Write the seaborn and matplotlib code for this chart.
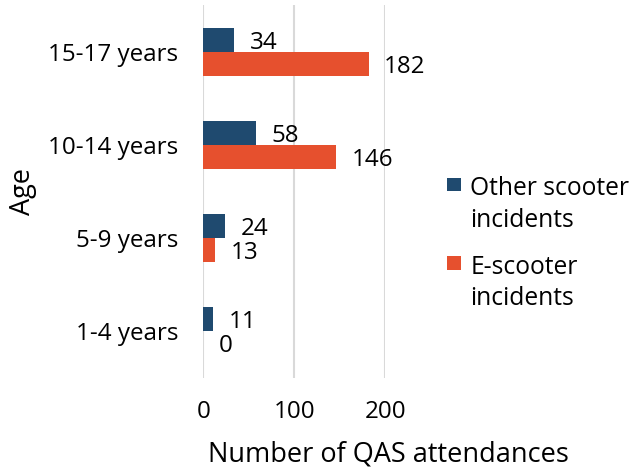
import pandas as pd
import matplotlib

matplotlib.use('Agg')
import matplotlib.pyplot as plt
from matplotlib.patches import Rectangle
from matplotlib.legend_handler import HandlerPatch
import seaborn as sns

ages = ['15-17 years', '10-14 years', '5-9 years', '1-4 years']
other_scooter = [34, 58, 24, 11]
e_scooter = [182, 146, 13, 0]
series_names = ['Other scooter\nincidents', 'E-scooter\nincidents']
colors = ['#1F4A6F', '#E6502E']

df = pd.DataFrame({
    'Age': ages * 2,
    'count': other_scooter + e_scooter,
    'type': [series_names[0]] * len(ages) + [series_names[1]] * len(ages),
})

sns.set_style('white')
plt.rcParams['font.family'] = ['Open Sans', 'DejaVu Sans']
for k in ['text.color', 'axes.labelcolor', 'xtick.color', 'ytick.color']:
    plt.rcParams[k] = 'black'

FS = 17.4
LEG_FS = 17.7

fig = plt.figure(figsize=(6.41, 4.70), dpi=100)
ax = fig.add_axes([0.317, 0.196, 0.284, 0.793])

sns.barplot(data=df, x='count', y='Age', hue='type', order=ages,
            hue_order=series_names, palette=colors, width=0.52,
            saturation=1, orient='h', ax=ax, linewidth=0)

for cont in ax.containers:
    txts = ax.bar_label(cont, padding=11, fontsize=FS, clip_on=False)
    for t in txts:
        t.set_va('center_baseline')

ax.set_xlim(0, 200)
ax.set_xticks([0, 100, 200])
ax.grid(axis='x', color='#d9d9d9', linewidth=1.5)
ax.set_axisbelow(True)
for s in ax.spines.values():
    s.set_visible(False)
ax.tick_params(axis='both', length=0, labelsize=FS)
ax.tick_params(axis='x', pad=16)
ax.tick_params(axis='y', pad=18)
# x title is centred under plot + legend, not under the axes alone
ax.set_xlabel('Number of QAS attendances', fontsize=19.5, labelpad=12, x=1.017)
ax.set_ylabel('Age', fontsize=19.5, labelpad=8)


# square marker sitting next to the first line of a two-line label
def square_first_line(legend, orig_handle, xdescent, ydescent, width, height, fontsize):
    sq = 0.55 * fontsize
    return Rectangle((-xdescent, -ydescent + 0.92 * fontsize), sq, sq)


handles, labels = ax.get_legend_handles_labels()
leg = ax.legend(handles, labels, loc='center left', bbox_to_anchor=(1.34, 0.36),
                frameon=False, fontsize=LEG_FS, borderpad=0, borderaxespad=0,
                handlelength=0.55, handleheight=0.7, handletextpad=0.4,
                labelspacing=0.9,
                handler_map={h: HandlerPatch(patch_func=square_first_line) for h in handles})
for t in leg.get_texts():
    t.set_linespacing(1.35)

fig.savefig('out.png', dpi=100)
